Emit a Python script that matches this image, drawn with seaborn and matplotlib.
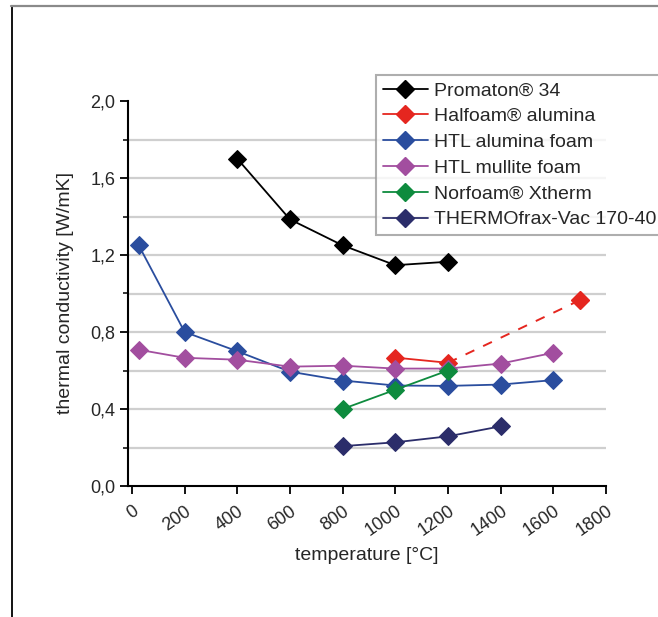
import matplotlib
matplotlib.use("Agg")
import matplotlib.pyplot as plt
from matplotlib.lines import Line2D
from matplotlib.ticker import MultipleLocator
import seaborn as sns
import pandas as pd

# ---- data ----
promaton_t = [400, 600, 800, 1000, 1200]
promaton_k = [1.70, 1.385, 1.25, 1.147, 1.165]

halfoam_t = [1000, 1200]
halfoam_k = [0.667, 0.64]
halfoam_ext_t = [1200, 1700]
halfoam_ext_k = [0.64, 0.965]

htl_alu_t = [25, 200, 400, 600, 800, 1000, 1200, 1400, 1600]
htl_alu_k = [1.252, 0.80, 0.70, 0.594, 0.548, 0.522, 0.52, 0.527, 0.55]

htl_mul_t = [25, 200, 400, 600, 800, 1000, 1200, 1400, 1600]
htl_mul_k = [0.708, 0.666, 0.656, 0.62, 0.625, 0.61, 0.61, 0.636, 0.692]

norfoam_t = [800, 1000, 1200]
norfoam_k = [0.40, 0.50, 0.60]

thermofrax_t = [800, 1000, 1200, 1400]
thermofrax_k = [0.207, 0.227, 0.258, 0.31]

labels = ["Promaton® 34", "Halfoam® alumina", "HTL alumina foam",
          "HTL mullite foam", "Norfoam® Xtherm", "THERMOfrax-Vac 170-40"]
colors = ["#000000", "#e5261f", "#2a4d9e", "#a24e9f", "#0e8b3e", "#2b2d6a"]

x_ticks = [0, 200, 400, 600, 800, 1000, 1200, 1400, 1600, 1800]
y_ticks = [0.0, 0.4, 0.8, 1.2, 1.6, 2.0]
y_tick_labels = ["0,0", "0,4", "0,8", "1,2", "1,6", "2,0"]
grid_levels = [0.2, 0.4, 0.6, 0.8, 1.0, 1.2, 1.4, 1.6, 1.8]

# ---- style ----
sns.set_theme(style="ticks")
plt.rcParams["font.family"] = ["Liberation Sans", "DejaVu Sans"]

fig = plt.figure(figsize=(6.58, 6.17), dpi=100)
ax = fig.add_axes([128 / 658, 1 - 486 / 617, (606 - 128) / 658, (486 - 101) / 617])

series = [
    (promaton_t, promaton_k),
    (halfoam_t, halfoam_k),
    (htl_alu_t, htl_alu_k),
    (htl_mul_t, htl_mul_k),
    (norfoam_t, norfoam_k),
    (thermofrax_t, thermofrax_k),
]

for g in grid_levels:
    ax.axhline(g, color="#cfcfcf", lw=1.6, zorder=0)

handles = []
for i, ((t, k), lab, col) in enumerate(zip(series, labels, colors)):
    df = pd.DataFrame({"t": t, "k": k})
    sns.lineplot(data=df, x="t", y="k", ax=ax, color=col, marker="D",
                 markersize=9, markeredgecolor=col, linewidth=1.3,
                 zorder=3 + i, legend=False)
    if i == 1:
        dfe = pd.DataFrame({"t": halfoam_ext_t, "k": halfoam_ext_k})
        sns.lineplot(data=dfe, x="t", y="k", ax=ax, color=col, linewidth=1.4,
                     linestyle=(0, (5, 5)), zorder=3 + i, legend=False)
        ax.plot([halfoam_ext_t[-1]], [halfoam_ext_k[-1]], marker="D",
                markersize=9, color=col, zorder=3 + i)
    handles.append(Line2D([], [], color=col, marker="D", markersize=9,
                          linewidth=1.3))

ax.set_xlim(-15, 1800)
ax.set_ylim(0, 2.0)
ax.set_xticks(x_ticks)
ax.set_xticklabels([str(v) for v in x_ticks], rotation=35, ha="right",
                   va="top", rotation_mode="anchor")
ax.set_yticks(y_ticks)
ax.set_yticklabels(y_tick_labels)
ax.yaxis.set_minor_locator(MultipleLocator(0.2))
ax.tick_params(axis="both", which="major", direction="out", length=6,
               width=1.3, color="black", labelsize=13, pad=3)
ax.tick_params(axis="y", which="minor", direction="out", length=3.5,
               width=1.1, color="black")
ax.tick_params(axis="x", which="major", pad=6)
for s in ["top", "right"]:
    ax.spines[s].set_visible(False)
for s in ["left", "bottom"]:
    ax.spines[s].set_color("black")
    ax.spines[s].set_linewidth(1.5)

ax.set_xlabel("temperature [°C]", fontsize=14, labelpad=5)
ax.set_ylabel("thermal conductivity [W/mK]", fontsize=14, labelpad=12)

leg = ax.legend(handles, labels, loc="upper left",
                bbox_to_anchor=(376 / 658, 1 - 75 / 617),
                bbox_transform=fig.transFigure, fontsize=14,
                frameon=True, fancybox=False, handlelength=2.3,
                handletextpad=0.35, labelspacing=0.42, borderpad=0.35,
                borderaxespad=0)
leg.get_frame().set_edgecolor("#9a9a9a")
leg.get_frame().set_linewidth(1.5)

# outer frame lines
fig.add_artist(Line2D([12 / 658, 12 / 658], [0, 1 - 6 / 617],
                      color="black", lw=1.3, transform=fig.transFigure))
fig.add_artist(Line2D([11 / 658, 1], [1 - 6 / 617, 1 - 6 / 617],
                      color="#8a8a8a", lw=1.6, transform=fig.transFigure))

fig.savefig("out.png", dpi=100)
